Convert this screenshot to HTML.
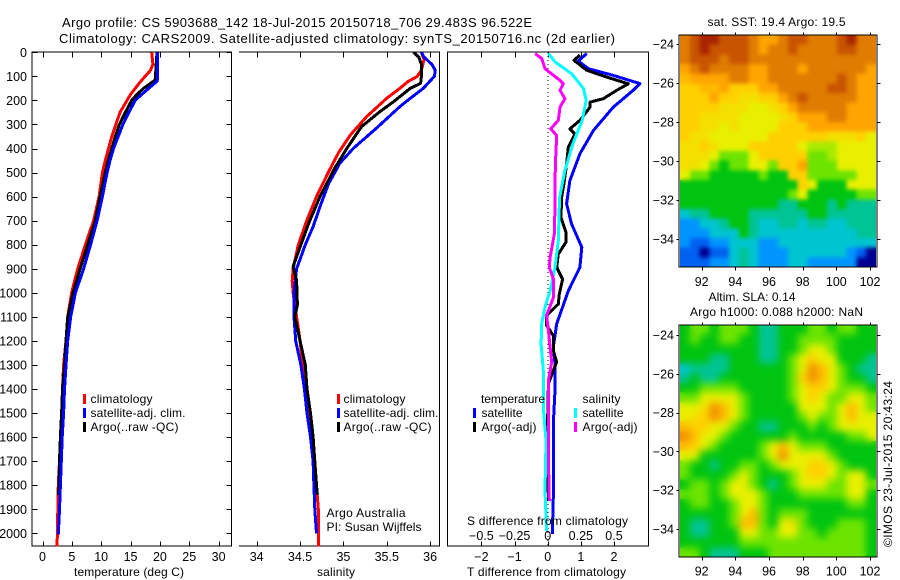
<!DOCTYPE html>
<html lang="en">
<head>
<meta charset="utf-8">
<title>Argo profile chart</title>
<style>
html,body{margin:0;padding:0;background:#fff;width:900px;height:580px;overflow:hidden}
svg{display:block}
text{font-family:"Liberation Sans",sans-serif;font-size:12px;fill:#000}
</style>
</head>
<body>
<svg id="chart" width="900" height="580" viewBox="0 0 900 580" xmlns="http://www.w3.org/2000/svg">
<defs>
<filter id="soft1" x="0" y="0" width="1" height="1" color-interpolation-filters="sRGB"><feGaussianBlur in="SourceGraphic" stdDeviation="2" result="b"/><feMerge><feMergeNode in="SourceGraphic"/><feMergeNode in="b"/></feMerge></filter>
<filter id="soft2" x="0" y="0" width="1" height="1" color-interpolation-filters="sRGB"><feGaussianBlur in="SourceGraphic" stdDeviation="4" result="b"/><feMerge><feMergeNode in="SourceGraphic"/><feMergeNode in="b"/></feMerge></filter>
<clipPath id="clip-sst"><rect x="680" y="35" width="196" height="232"/></clipPath>
<clipPath id="clip-sla"><rect x="680" y="325" width="196" height="232"/></clipPath>
</defs>

<text x="62" y="27" textLength="470" style="font-size:13px">Argo profile: CS 5903688_142 18-Jul-2015 20150718_706 29.483S 96.522E</text>
<text x="59" y="43" textLength="556" style="font-size:13px">Climatology: CARS2009. Satellite-adjusted climatology: synTS_20150716.nc (2d earlier)</text>

<g id="frames" fill="none" stroke="#000" stroke-width="1" shape-rendering="crispEdges">
<rect x="32" y="52" width="199.5" height="494"/>
<path d="M239 52H439.5V546H239"/>
<rect x="447.5" y="52" width="201" height="494"/>
</g>

<g id="ticks"></g>
<g id="tick-labels"></g>

<line x1="548" y1="52" x2="548" y2="546" stroke="#000" stroke-width="1" stroke-dasharray="1 3"/>

<g id="series" fill="none" stroke-width="3" stroke-linejoin="round" shape-rendering="crispEdges"></g>

<text x="74" y="576" textLength="110">temperature (deg C)</text>
<text x="317" y="576" textLength="38">salinity</text>
<text x="467" y="576" textLength="159">T difference from climatology</text>
<text x="467" y="525" textLength="161">S difference from climatology</text>

<g>
<rect x="83" y="394" width="3" height="10" fill="#f00"/>
<text x="90.5" y="403" textLength="62">climatology</text>
<rect x="83" y="408" width="3" height="10" fill="#00f"/>
<text x="90.5" y="417" textLength="95">satellite-adj. clim.</text>
<rect x="83" y="422" width="3" height="10" fill="#000"/>
<text x="90.5" y="431" textLength="88">Argo(..raw -QC)</text>
</g>
<g>
<rect x="337" y="394" width="3" height="10" fill="#f00"/>
<text x="343.5" y="403" textLength="62">climatology</text>
<rect x="337" y="408" width="3" height="10" fill="#00f"/>
<text x="343.5" y="417" textLength="95">satellite-adj. clim.</text>
<rect x="337" y="422" width="3" height="10" fill="#000"/>
<text x="343.5" y="431" textLength="88">Argo(..raw -QC)</text>
</g>
<text x="326.5" y="517" textLength="79">Argo Australia</text>
<text x="326.5" y="531" textLength="95">PI: Susan Wijffels</text>

<g>
<text x="481" y="403" textLength="64">temperature</text>
<rect x="473" y="408" width="3" height="10" fill="#00f"/>
<text x="481.5" y="417" textLength="41">satellite</text>
<rect x="473" y="422" width="3" height="10" fill="#000"/>
<text x="481.5" y="431" textLength="55">Argo(-adj)</text>
<text x="582.5" y="403" textLength="38">salinity</text>
<rect x="574" y="408" width="3" height="10" fill="#0ff"/>
<text x="582.5" y="417" textLength="41">satellite</text>
<rect x="574" y="422" width="3" height="10" fill="#f0f"/>
<text x="582.5" y="431" textLength="55">Argo(-adj)</text>
</g>

<text x="707.5" y="26" textLength="138">sat. SST: 19.4 Argo: 19.5</text>
<g clip-path="url(#clip-sst)"><g id="sst-cells" filter="url(#soft1)" shape-rendering="crispEdges"></g></g>
<text x="708.5" y="301" textLength="87">Altim. SLA: 0.14</text>
<text x="690" y="316" textLength="173">Argo h1000: 0.088 h2000: NaN</text>
<g clip-path="url(#clip-sla)"><g id="sla-cells" filter="url(#soft2)" shape-rendering="crispEdges"></g></g>
<rect x="679" y="35" width="198" height="232" fill="none" stroke="#000" shape-rendering="crispEdges"/>
<rect x="679" y="325" width="198" height="232" fill="none" stroke="#000" shape-rendering="crispEdges"/>
<text transform="translate(892 547) rotate(-90)" x="0" y="0" textLength="166">©IMOS 23-Jul-2015 20:43:24</text>
</svg>

<script>
/* ---------- axis tick data ---------- */
const depthTicks = [0,100,200,300,400,500,600,700,800,900,1000,1100,1200,1300,1400,1500,1600,1700,1800,1900,2000];
const tempTicks = [0,5,10,15,20,25,30];
const salTicks = [34,34.5,35,35.5,36];
const tDiffTicks = [-2,-1,0,1,2];
const sDiffTicks = [-0.5,-0.25,0,0.25,0.5];
const lonTicks = [92,94,96,98,100,102];
const latTicks = [-24,-26,-28,-30,-32,-34];

/* ---------- temperature profiles ---------- */
const tempClimDepths = [0,50,75,100,125,150,175,200,250,300,350,400,450,500,600,700,800,900,1000,1100,1200,1300,1400,1500,1600,1700,1800,1900,2000,2054];
const tempClimValues = [18.6,18.8,18.4,17.5,16.6,15.8,15.0,14.4,13.2,12.5,11.8,11.25,10.7,10.2,9.65,8.7,7.3,6.0,4.95,4.3,4.0,3.6,3.4,3.3,3.1,2.9,2.7,2.6,2.55,2.45];
const tempSatDepths = [0,110,120,150,175,200,250,300,350,400,450,500,600,700,800,900,1000,1100,1200,1300,1400,1500,1600,1700,1800,1900,2005];
const tempSatValues = [19.6,19.6,19.5,18.1,16.9,15.8,14.7,13.7,12.9,12.1,11.5,11.0,10.2,9.3,8.2,7.0,5.6,4.8,4.3,4.0,3.75,3.6,3.35,3.2,3.05,2.9,2.7];
const tempArgoDepths = [0,115,150,175,200,250,300,350,400,450,500,600,700,800,900,1000,1100,1200,1300,1400,1500,1600,1700,1800,1840];
const tempArgoValues = [19.5,19.2,17.2,16.1,15.2,14.1,13.1,12.4,11.8,11.2,10.7,9.8,9.0,7.7,6.4,5.2,4.3,4.0,3.75,3.4,3.25,3.05,2.9,2.8,2.75];

/* ---------- salinity profiles ---------- */
const salClimDepths = [0,30,75,101,120,150,191,267,344,420,496,600,697,801,900,950,1000,1100,1200,1300,1400,1500,1600,1700,1800,1900,2000,2054];
const salClimValues = [35.9,35.93,35.9,35.85,35.75,35.65,35.5,35.27,35.08,34.94,34.83,34.69,34.58,34.48,34.42,34.41,34.42,34.46,34.5,34.53,34.58,34.61,34.63,34.67,34.69,34.71,34.715,34.715];
const salSatDepths = [0,20,50,75,100,150,200,226,316,399,461,545,642,725,800,900,1000,1100,1200,1300,1400,1500,1600,1700,1800,1900,2000];
const salSatValues = [35.9,35.93,36.02,36.06,36.05,35.92,35.74,35.65,35.38,35.115,34.96,34.83,34.73,34.65,34.56,34.46,34.43,34.43,34.45,34.51,34.55,34.58,34.62,34.65,34.66,34.67,34.69];
const salArgoDepths = [0,20,50,100,129,150,205,247,309,330,399,482,600,711,850,891,950,1050,1100,1200,1300,1400,1500,1600,1700,1800,1840];
const salArgoValues = [35.81,35.87,35.9,35.9,35.89,35.77,35.58,35.42,35.21,35.17,35.04,34.9,34.73,34.6,34.46,34.42,34.46,34.47,34.44,34.5,34.56,34.58,34.62,34.65,34.67,34.69,34.7];

/* ---------- differences from climatology ---------- */
const tDiffSatDepths = [5,36,68,96,130,158,228,325,422,533,630,714,811,894,992,1129,1226,1295,1406,1545,1684,1851,2003];
const tDiffSatValues = [1.18,0.92,1.23,1.98,2.78,2.58,1.98,1.38,0.97,0.67,0.57,0.72,1.03,0.97,0.62,0.27,0.17,0.22,0.22,0.17,0.17,0.17,0.14];
const tDiffArgoDepths = [12,33,75,103,131,158,193,207,228,283,318,339,394,464,547,603,686,749,790,839,894,943,1006,1047,1094,1136,1178,1240,1288,1323,1378,1517,1698,1865];
const tDiffArgoValues = [0.97,0.79,1.18,1.78,2.43,2.08,1.68,1.28,1.28,0.97,0.67,0.82,0.62,0.57,0.49,0.42,0.40,0.55,0.55,0.32,0.27,0.45,0.35,0.32,-0.03,-0.03,0.17,0.17,0.27,0.17,0.02,0,0,0.02];
const sDiffSatDepths = [5,40,89,151,200,283,380,492,603,783,894,992,1060,1129,1212,1323,1476,1615,1823,1990];
const sDiffSatValues = [0.005,0.055,0.18,0.27,0.29,0.26,0.19,0.13,0.09,0.08,0.055,0.018,-0.02,-0.045,-0.05,-0.033,-0.033,-0.013,-0.02,-0.008];
const sDiffArgoDepths = [5,26,68,117,131,158,193,228,283,318,346,436,533,644,756,853,894,943,1019,1094,1157,1226,1288,1364,1476,1684,1865];
const sDiffArgoValues = [-0.095,-0.045,-0.02,0.093,0.118,0.093,0.13,0.093,0.08,0.023,0.068,0.06,0.055,0.055,0.05,0.018,0.012,0.043,0.043,-0.008,0.005,0.018,0.03,0.005,0.005,0.005,0.012];

/* ---------- satellite SST map, colour-scale levels ---------- */
const sstGrid = [
[10,11,12,12,11,11,11,10,9,9,10,11,11,10,10,10,11,12,10,10],
[10,11,12,11,11,11,11,10,9,10,10,11,10,10,10,10,11,11,10,10],
[10,11,11,11,10,11,11,10,10,10,10,10,10,10,10,10,10,10,10,10],
[9,10,11,10,10,10,10,9,9,10,10,10,9,10,10,10,10,10,10,9],
[8.5,9,9,9,9,10,10,9,9,10,10,10,10,10,10,10,11,10,9,9],
[8,8,8.5,8.5,9,8,8,8,9,9,10,10,10,10,10,11,11,10,9,9],
[8,8,8,9,8,8,7.5,7.5,8,8,9,10,11,10,10,10,10,10,9,9],
[8,8,8,8,7.5,7.5,7.5,7,7,7.5,8,9,10,10,10,10,10,9,9,9],
[8,8,7.5,7.5,7.5,7.5,7,7,7,7,7.5,8,9,9,9,10,10,9,9,9],
[8,8,7.5,7.5,7,7.5,7,7,7,7,8,8,8,9,9,9,9,9,9,9],
[8,7.5,7.5,7,7,7,7,7,7,8,8,8,8,8,8,7.5,7.5,7.5,8,7],
[7.5,7.5,8,7.5,7,7,7,8,8,8,8,8,7,6.5,6.5,6.5,7,7,7,7],
[7.5,7.5,7.5,7,6,6,6,7,8,8,8,8,8,6,6,6.5,7,7,7,7],
[7.5,7.5,7,6,5,6,6,7,7,6,8,8,9,6,6,6,7,7,7,7],
[7,6,6,5,5,5,5,5,6,5,5,8,8,6,6,6,6,6,7,7],
[5,5,5,5,5,5,5,5,5,5,5,5,8,7,5,5,5,7,7,7],
[5,5,5,5,5,5,5,5,5,5,5,6,7,5,5,5,5,5,6,6],
[5,5,5,5,5,5,5,5,5,5,4,4,5,5,5,4,5,4,4,4],
[3,4,4,5,5,5,5,4,4,4,4,4,4,5,5,4,4,4,4,4],
[2,2,3,3,4,5,5,4,3,3,4,4,3,4,4,3,3,4,4,4],
[2,2,2,3,3,3,5,4,3,3,3,3,3,3,3,3,3,3,4,4],
[2,1,1,2,2,3,3,3,2,2,3,3,3,3,3,3,3,3,3,3],
[1,1,0,1,1,3,4,3,2,2,2,3,3,3,3,3,3,2,1,0],
[1,1,1,2,2,3,4,3,2,2,2,3,3,2,2,2,2,2,0,0]
];

/* ---------- altimetry SLA map, colour-scale levels ---------- */
const slaGrid = [
[5,6,6,5,6,6,6,5,4,4,5,5,5,6,6,5,6,6,5,5],
[5,6,5,5,6,6,5,5,4,4,5,5,6,6,6,6,5,5,5,5],
[5,5,5,5,5,5,5,5,4,4,5,5,6,7,7,6,5,5,5,5],
[5,5,5,4,4,5,5,5,4,4,5,6,7,8,7,7,5,5,5,4],
[3,4,4,4,4,5,5,5,5,5,5,6,7,9.5,8.5,7,6,5,4,4],
[4,5,4,4,5,5,5,5,5,5,5,6,8,9.5,8.5,7,6,5,5,4],
[5,5,6,6,6,6,5,5,5,5,5,6,7,8,8,7,6,6,6,5],
[6,6,7,7,7,7,6,5,5,5,5,6,7,8,7,6,6,7,7,6],
[7,7,7.5,9.5,8.5,7,6,5,5,5,5,5,7,7,7,6,7,8.5,7,6],
[7,7.5,8,9.5,8.5,7,6,5,5,5,5,5,6,7,6,6,7,8.5,7,7],
[8.5,8,8,7,7,6,5,5,4,4,5,5,5,6,5,6,7,7,7,7],
[9.5,8.5,7,7,6,5,5,5,5,5,5,6,5,5,5,5,5,6,6,7],
[8.5,8,7,6,5,5,5,5,6,7,8.5,7,6,6,6,5,5,5,5,5],
[7,7,5,5,5,5,5,5,6,7,9.5,7,7,7,7,6,5,5,5,5],
[6,5,5,4,5,5,6,6,5,6,7,7,7,8,8,7,6,5,5,5],
[6,5,5,5,5,6,7,6,5,5,5,6,7,8,8,7,6,7,7,5],
[5,6,6,5,6,7,7,6,5,4,5,6,7,7,7,6,6,7,7,6],
[6,6,6,5,6,7,7,7,6,5,5,5,6,6,6,6,6,7,7,5],
[5,6,6,5,5,6,7,7,6,5,5,5,5,5,5,5,5,6,6,5],
[5,5,5,5,5,6,7,8.5,6,5,6,6,6,5,5,5,5,5,5,5],
[5,4,4,5,5,6,8.5,8.5,6,5,7,7.5,6,5,5,5,6,6,6,5],
[5,4,4,5,5,5,7,7,6,6,7,7,6,6,5,6,6,6,6,5],
[5,5,5,5,5,5,6,6,6,6,6,6,6,6,6,6,6,6,6,5],
[6,6,5,4,4,4,5,5,5,6,6,6,6,6,6,6,6,6,6,5]
];

/* ---------- axis functions ---------- */
const SVGNS = 'http://www.w3.org/2000/svg';
function depthY(d){ return 52.3 + d * 0.2405; }
function tempX(v){ return 42.5 + v * 5.87; }
function salX(v){ return 256.7 + (v - 34) * 86.7; }
function tDiffX(v){ return 547.7 + v * 33.15; }
function sDiffX(v){ return 547.7 + v * 132.6; }
function lonX(v){ return 701.7 + (v - 92) * 16.83; }
function sstLatY(v){ return 44 + (-24 - v) * 19.5; }
function slaLatY(v){ return 335 + (-24 - v) * 19.4; }

const palette = ['#000090','#0060f0','#0094ff','#00c4d0','#00c494','#00c410','#6ce400','#e8f000','#ffd000','#ffa400','#e07c00','#c85400','#a82400'];
function hexRgb(h){ return [parseInt(h.slice(1,3),16),parseInt(h.slice(3,5),16),parseInt(h.slice(5,7),16)]; }
function levelColor(level){
  const l = Math.max(0, Math.min(palette.length - 1, level));
  const i = Math.min(palette.length - 2, Math.floor(l));
  const a = hexRgb(palette[i]), b = hexRgb(palette[i + 1]), t = l - i;
  return 'rgb(' + a.map((c, k) => Math.round(c + (b[k] - c) * t)).join(',') + ')';
}

/* ---------- drawing ---------- */
const ticksG = document.getElementById('ticks');
const labelsG = document.getElementById('tick-labels');
const seriesG = document.getElementById('series');

function addTick(x1, y1, x2, y2){
  const el = document.createElementNS(SVGNS, 'line');
  
  
  el.setAttribute('x1', Math.round(x1) + 0.5);
  el.setAttribute('y1', Math.round(y1) + 0.5);
  el.setAttribute('x2', Math.round(x2) + 0.5);
  el.setAttribute('y2', Math.round(y2) + 0.5);
  el.setAttribute('stroke', '#000');
  el.setAttribute('shape-rendering', 'crispEdges');
  ticksG.appendChild(el);
}
function addLabel(x, y, str, anchor){
  const el = document.createElementNS(SVGNS, 'text');
  
  
  el.setAttribute('x', x);
  el.setAttribute('y', y);
  el.setAttribute('text-anchor', anchor);
  el.style.fontSize = '12.5px';
  el.textContent = String(str).replace('-', '\u2212');
  labelsG.appendChild(el);
}
function addSeries(depths, values, xFn, color, name){
  const el = document.createElementNS(SVGNS, 'polyline');
  
  
  el.setAttribute('stroke', color);
  el.setAttribute('points', depths.map((d, i) => xFn(values[i]).toFixed(1) + ',' + depthY(d).toFixed(1)).join(' '));
  seriesG.appendChild(el);
}
function addCells(groupId, grid, x0, y0, w, h, name){
  const g = document.getElementById(groupId);
  const cw = w / grid[0].length, ch = h / grid.length;
  grid.forEach((row, r) => row.forEach((v, c) => {
    const el = document.createElementNS(SVGNS, 'rect');
    
    
    el.setAttribute('x', (x0 + c * cw).toFixed(2));
    el.setAttribute('y', (y0 + r * ch).toFixed(2));
    el.setAttribute('width', (cw + 0.6).toFixed(2));
    el.setAttribute('height', (ch + 0.6).toFixed(2));
    el.setAttribute('fill', levelColor(v));
    g.appendChild(el);
  }));
}

/* temperature panel ticks */
depthTicks.forEach(d => {
  const y = depthY(d);
  addTick(32, y, 37, y);
  addTick(226, y, 231, y);
  addLabel(27, y + 4.5, d, 'end');
});
tempTicks.forEach(v => {
  const x = tempX(v);
  addTick(x, 546, x, 541);
  addTick(x, 52, x, 57);
  addLabel(x, 561, v, 'middle');
});
/* salinity panel ticks */
salTicks.forEach(v => {
  const x = salX(v);
  addTick(x, 546, x, 541);
  addTick(x, 52, x, 57);
  addLabel(x, 561, v, 'middle');
});
/* difference panel ticks */
tDiffTicks.forEach(v => {
  const x = tDiffX(v);
  addTick(x, 546, x, 541);
  addTick(x, 52, x, 57);
  addLabel(x, 561, v, 'middle');
});
sDiffTicks.forEach(v => {
  addLabel(sDiffX(v), 540, v, 'middle');
});
/* map ticks */
[[35, 267, 286, sstLatY], [325, 557, 575.5, slaLatY]].forEach(m => {
  lonTicks.forEach(v => {
    const x = lonX(v);
    addTick(x, m[0], x, m[0] - 3);
    addTick(x, m[1], x, m[1] + 3);
    addLabel(x, m[2], v, 'middle');
  });
  latTicks.forEach(v => {
    const y = m[3](v);
    addTick(679, y, 676, y);
    addTick(877, y, 880, y);
    addLabel(674, y + 4.5, v, 'end');
  });
});

/* profile series */
addSeries(tempClimDepths, tempClimValues, tempX, '#f00', 'temperature-climatology-line');
addSeries(tempArgoDepths, tempArgoValues, tempX, '#000', 'temperature-argo-line');
addSeries(tempSatDepths, tempSatValues, tempX, '#00f', 'temperature-satellite-line');

addSeries(salClimDepths, salClimValues, salX, '#f00', 'salinity-climatology-line');
addSeries(salSatDepths, salSatValues, salX, '#00f', 'salinity-satellite-line');
addSeries(salArgoDepths, salArgoValues, salX, '#000', 'salinity-argo-line');

addSeries(tDiffSatDepths, tDiffSatValues, tDiffX, '#00f', 't-difference-satellite-line');
addSeries(tDiffArgoDepths, tDiffArgoValues, tDiffX, '#000', 't-difference-argo-line');
addSeries(sDiffSatDepths, sDiffSatValues, sDiffX, '#0ff', 's-difference-satellite-line');
addSeries(sDiffArgoDepths, sDiffArgoValues, sDiffX, '#f0f', 's-difference-argo-line');

/* heatmaps */
addCells('sst-cells', sstGrid, 680, 35, 196, 232, 'sst-cell');
addCells('sla-cells', slaGrid, 680, 325, 196, 232, 'sla-cell');
</script>
</body>
</html>
